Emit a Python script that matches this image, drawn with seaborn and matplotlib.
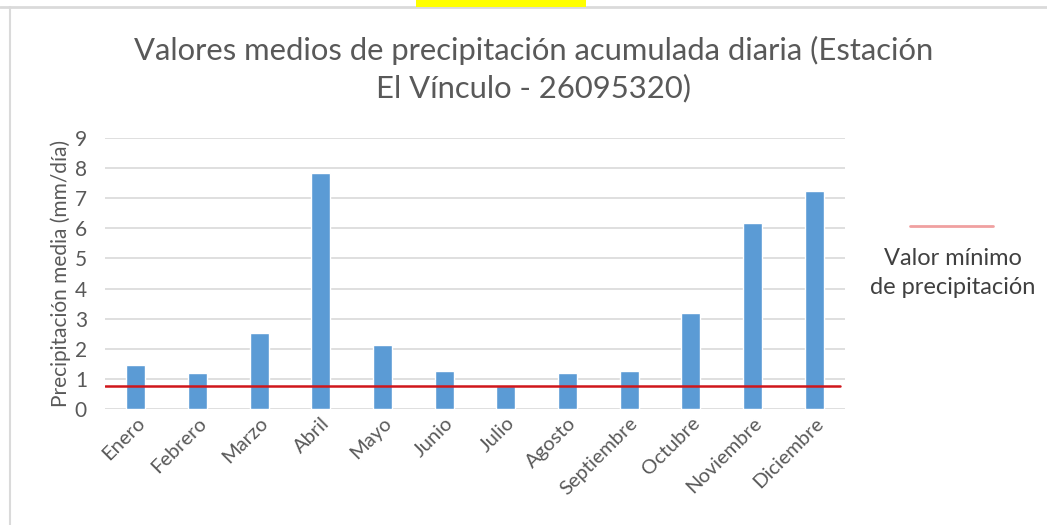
import matplotlib
matplotlib.use("Agg")
import matplotlib.pyplot as plt
import seaborn as sns
import pandas as pd
from matplotlib.lines import Line2D

meses = ["Enero", "Febrero", "Marzo", "Abril", "Mayo", "Junio", "Julio",
         "Agosto", "Septiembre", "Octubre", "Noviembre", "Diciembre"]
precipitacion = [1.46, 1.18, 2.51, 7.83, 2.13, 1.26, 0.78, 1.18, 1.27, 3.20, 6.17, 7.24]
valor_minimo = 0.77
y_ticks = list(range(0, 10))

titulo = "Valores medios de precipitación acumulada diaria (Estación\nEl Vínculo - 26095320)"
ylabel = "Precipitación media (mm/día)"
leyenda = "Valor mínimo\nde precipitación"

sns.set_theme(style="white")
plt.rcParams['font.family'] = ['Lato', 'DejaVu Sans']

df = pd.DataFrame({"mes": meses, "valor": precipitacion})

fig = plt.figure(figsize=(10.47, 5.25), dpi=100)
ax = fig.add_axes([105/1047, 1 - 409/525, 740/1047, 271/525])

sns.barplot(data=df, x="mes", y="valor", color="#5B9BD5", saturation=1,
            width=0.31, ax=ax, zorder=2)

ax.set_ylim(0, 9)
ax.set_xlim(-0.5, 11.5)
ax.set_yticks(y_ticks)
ax.yaxis.grid(True, color="#D9D9D9", linewidth=1.2, zorder=0)
ax.xaxis.grid(False)
for s in ax.spines.values():
    s.set_visible(False)
ax.tick_params(axis="y", length=0, colors="#595959", labelsize=15, pad=13)
ax.tick_params(axis="x", length=0, colors="#595959", labelsize=14.5, pad=4)
for lab in ax.get_xticklabels():
    lab.set_rotation(45)
    lab.set_ha("right")
    lab.set_rotation_mode("anchor")
ax.set_xlabel("")
ax.set_ylabel(ylabel, fontsize=15, color="#595959", labelpad=3)

ax.axhline(valor_minimo, xmin=0, xmax=0.993, color="#D0161B", linewidth=1.8, zorder=3)

fig.text(0.51, 1 - 69/525, titulo, ha="center", va="center", fontsize=22.3,
         color="#595959", linespacing=1.38)

# legend
fig.add_artist(Line2D([910/1047, 993/1047], [1 - 226/525, 1 - 226/525],
                      color="#F0A0A0", linewidth=2))
fig.text(953/1047, 1 - 273/525, leyenda, ha="center", va="center", fontsize=17,
         color="#404040", linespacing=1.45)

# frame lines
fig.add_artist(Line2D([0, 1], [1 - 6.5/525, 1 - 6.5/525], color="#DADADA", linewidth=2))
fig.add_artist(Line2D([10/1047, 10/1047], [0, 1 - 7/525], color="#DADADA", linewidth=1.5))

fig.text(501/1047, 1 - 2.5/525, "LICENCIAS", ha="center", va="bottom", fontsize=23,
         fontweight="bold", color="black",
         bbox=dict(facecolor="#FFFF00", edgecolor="none", pad=3.5))

fig.savefig("out.png", dpi=100)
